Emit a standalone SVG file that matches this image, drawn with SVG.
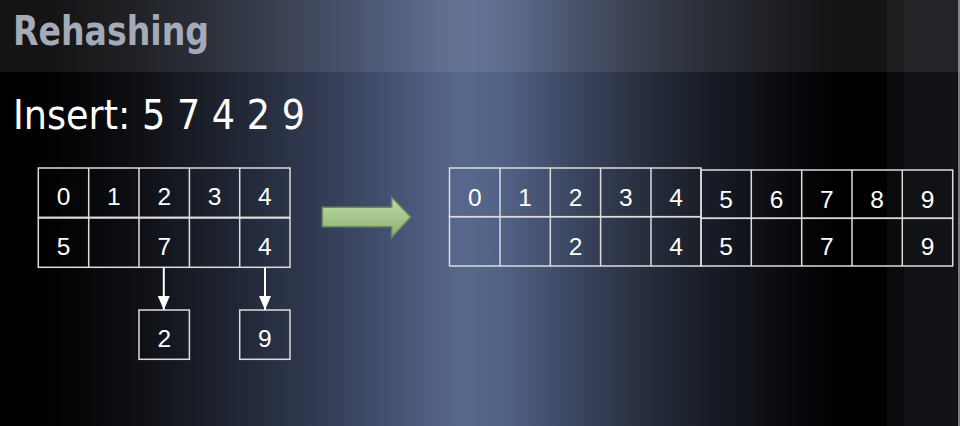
<svg xmlns="http://www.w3.org/2000/svg" width="960" height="426" viewBox="0 0 960 426">
<defs>
<linearGradient id="bg" x1="0" y1="0" x2="960" y2="0" gradientUnits="userSpaceOnUse">
<stop offset="0" stop-color="#000000"/>
<stop offset="0.06" stop-color="#020203"/>
<stop offset="0.15" stop-color="#0f1116"/>
<stop offset="0.25" stop-color="#212735"/>
<stop offset="0.35" stop-color="#36405a"/>
<stop offset="0.43" stop-color="#4a587b"/>
<stop offset="0.48" stop-color="#58688d"/>
<stop offset="0.52" stop-color="#536388"/>
<stop offset="0.6" stop-color="#3b455f"/>
<stop offset="0.68" stop-color="#252b3a"/>
<stop offset="0.77" stop-color="#12151c"/>
<stop offset="0.85" stop-color="#030406"/>
<stop offset="0.875" stop-color="#000000"/>
<stop offset="1" stop-color="#000000"/>
</linearGradient>
<linearGradient id="green" x1="0" y1="0" x2="0" y2="1">
<stop offset="0" stop-color="#c2dcaa"/>
<stop offset="0.5" stop-color="#a6c68c"/>
<stop offset="1" stop-color="#8cae70"/>
</linearGradient>
<marker id="head" markerUnits="userSpaceOnUse" markerWidth="14" markerHeight="12" viewBox="0 0 14 12" refX="14" refY="6" orient="auto">
<path d="M0,0 L14,6 L0,12 Z" fill="#ffffff"/>
</marker>
<style>
.cell{fill:none;stroke:#dcdcdc;stroke-width:1.5}
.num{font-family:"Liberation Sans",Arial,sans-serif;font-size:24.5px;fill:#ffffff;text-anchor:middle}
.conn{stroke:#ffffff;stroke-width:2;fill:none}
</style>
</defs>
<rect x="0" y="0" width="960" height="426" fill="url(#bg)"/>
<rect x="887" y="0" width="17" height="426" fill="#0b0b0d"/>
<rect x="904" y="0" width="54" height="426" fill="#111216"/>
<rect x="958" y="0" width="2" height="426" fill="#7a7c82"/>
<rect x="0" y="0" width="960" height="72" fill="#ffffff" fill-opacity="0.08"/>

<g id="title">
<text x="13" y="45" font-family="DejaVu Sans, sans-serif" font-weight="bold" font-size="40" fill="#a3aab8" textLength="196" lengthAdjust="spacingAndGlyphs">Rehashing</text>
</g>
<g id="subtitle">
<text x="13" y="129" font-family="DejaVu Sans, sans-serif" font-size="40" fill="#ffffff" textLength="292" lengthAdjust="spacingAndGlyphs">Insert: 5 7 4 2 9</text>
</g>

<g id="old-table">
<rect class="cell" x="38.3" y="168" width="251.7" height="49.3"/>
<rect class="cell" x="38.3" y="218" width="251.7" height="49.3"/>
<path class="cell" d="M88.7,168V267.3M139,168V267.3M189.4,168V267.3M239.7,168V267.3"/>
<text class="num" x="63.5" y="205">0</text>
<text class="num" x="113.8" y="205">1</text>
<text class="num" x="164.2" y="205">2</text>
<text class="num" x="214.5" y="205">3</text>
<text class="num" x="264.8" y="205">4</text>
<text class="num" x="63.5" y="255">5</text>
<text class="num" x="164.2" y="255">7</text>
<text class="num" x="264.8" y="255">4</text>
</g>

<g id="chain-2">
<rect class="cell" x="139" y="310" width="50.4" height="49.3"/>
<text class="num" x="164.2" y="347">2</text>
</g>
<g id="chain-9">
<rect class="cell" x="239.7" y="310" width="50.3" height="49.3"/>
<text class="num" x="264.8" y="347">9</text>
</g>

<g id="connectors">
<line class="conn" x1="163.8" y1="267.3" x2="163.8" y2="310" marker-end="url(#head)"/>
<line class="conn" x1="265" y1="267.3" x2="265" y2="310" marker-end="url(#head)"/>
</g>

<g id="rehash-arrow">
<path d="M322.3,207.3 H391.7 V197.3 L410.7,217 L391.7,237.3 V226.7 H322.3 Z" fill="url(#green)" stroke="#6b8a58" stroke-width="1.5"/>
</g>

<g id="new-table-left">
<rect class="cell" x="449.5" y="168" width="251.5" height="48.7"/>
<rect class="cell" x="449.5" y="216.7" width="251.5" height="49.3"/>
<path class="cell" d="M500,168V266M550.3,168V266M600.6,168V266M651,168V266"/>
<text class="num" x="474.7" y="205.5">0</text>
<text class="num" x="525" y="205.5">1</text>
<text class="num" x="575.5" y="205.5">2</text>
<text class="num" x="625.8" y="205.5">3</text>
<text class="num" x="676" y="205.5">4</text>
<text class="num" x="575.5" y="255">2</text>
<text class="num" x="676" y="255">4</text>
</g>
<g id="new-table-right">
<rect class="cell" x="701" y="170" width="251.7" height="48.3"/>
<rect class="cell" x="701" y="218.3" width="251.7" height="47.7"/>
<path class="cell" d="M751.3,170V266M801.7,170V266M852,170V266M902.3,170V266"/>
<text class="num" x="726" y="207.5">5</text>
<text class="num" x="776.5" y="207.5">6</text>
<text class="num" x="826.8" y="207.5">7</text>
<text class="num" x="877" y="207.5">8</text>
<text class="num" x="927.5" y="207.5">9</text>
<text class="num" x="726" y="255">5</text>
<text class="num" x="826.8" y="255">7</text>
<text class="num" x="927.5" y="255">9</text>
</g>
</svg>
